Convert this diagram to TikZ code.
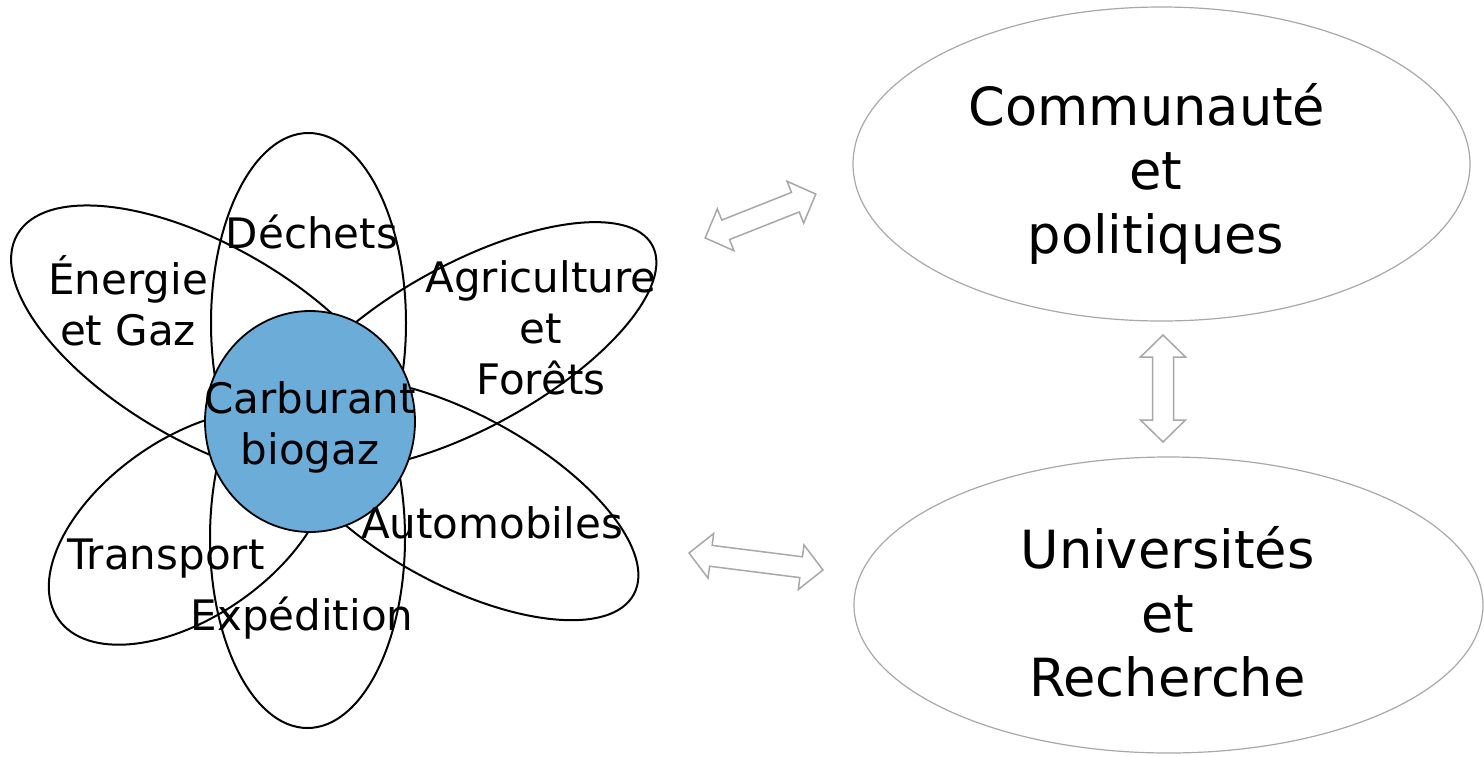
\documentclass[tikz,border=0pt]{standalone}
\usepackage{fontspec}
\setmainfont{DejaVu Sans}
\usetikzlibrary{shapes.geometric}
\definecolor{petalblue}{RGB}{107,172,217}
\definecolor{ringgray}{RGB}{168,168,168}
\tikzset{
  petal/.style={ellipse, draw=black, line width=1pt, inner sep=0pt, outer sep=0pt},
  hub/.style={ellipse, draw=black, line width=0.9pt, fill=petalblue, inner sep=0pt,
    minimum width=105pt, minimum height=110.5pt},
  ptext/.style={align=center, font=\fontsize{21}{25.5}\selectfont, inner sep=0pt},
  bigring/.style={ellipse, draw=ringgray, line width=0.6pt, inner sep=0pt},
  btext/.style={align=center, font=\fontsize{26.3}{32}\selectfont, inner sep=0pt},
  blockarrow/.style={draw=ringgray, line width=0.75pt, fill=white, line join=miter}
}
\newcommand{\dblarrow}[5]{% name, cx, cy, angle, length
  \coordinate (#1) at (#2,#3);
  \begin{scope}[shift={(#1)}, rotate=#4]
    \path[blockarrow] ({-#5/2},0) -- ({-#5/2+22},22.5) -- ({-#5/2+22},10.5)
      -- ({#5/2-22},10.5) -- ({#5/2-22},22.5) -- ({#5/2},0)
      -- ({#5/2-22},-22.5) -- ({#5/2-22},-10.5) -- ({-#5/2+22},-10.5)
      -- ({-#5/2+22},-22.5) -- cycle;
  \end{scope}}
\begin{document}
\begin{tikzpicture}[x=0.5pt, y=-0.5pt]
\useasboundingbox (0,0) rectangle (1484,756);
% petals
\node[petal, minimum width=219pt, minimum height=98pt, rotate=-30] (pUL) at (207,344) {};
\node[petal, minimum width=210pt, minimum height=82pt, rotate=28.7] (pUR) at (468,346) {};
\node[petal, minimum width=200pt, minimum height=85pt, rotate=-28.5] (pLR) at (458,499) {};
\node[petal, minimum width=160pt, minimum height=89pt, rotate=35] (pLL) at (189.5,527.5) {};
\node[petal, minimum width=97.5pt, minimum height=190pt] (pT) at (308.5,323) {};
\node[petal, minimum width=97.5pt, minimum height=190pt] (pB) at (307.5,538) {};
% hub
\node[hub] (hub) at (310,421.5) {};
% labels
\node[ptext] (tD) at (312,232) {Déchets};
\node[ptext] (tE) at (128,301) {Énergie\\et Gaz};
\node[ptext] (tA) at (541,328) {Agriculture\\et\\Forêts};
\node[ptext] (tC) at (310,427) {Carburant\\biogaz};
\node[ptext] (tAu) at (492,523) {Automobiles};
\node[ptext] (tT) at (166,559) {Transport};
\node[ptext] (tX) at (302,618) {Expédition};
% right ellipses
\node[bigring, minimum width=308.5pt, minimum height=157pt] (comm) at (1161.5,164) {};
\node[bigring, minimum width=314.5pt, minimum height=148pt] (univ) at (1168.5,605) {};
\node[btext] (tcomm) at (1156,174) {Communauté\hbox to 9pt{}\\et\\politiques};
\node[btext] (tuniv) at (1167.5,612) {Universités\\et\\Recherche};
% block arrows
\dblarrow{a1}{760.5}{216}{21.6}{119}
\dblarrow{a2}{756}{561.5}{-7.2}{135}
\dblarrow{a3}{1163}{388.5}{90}{107}
\end{tikzpicture}
\end{document}
